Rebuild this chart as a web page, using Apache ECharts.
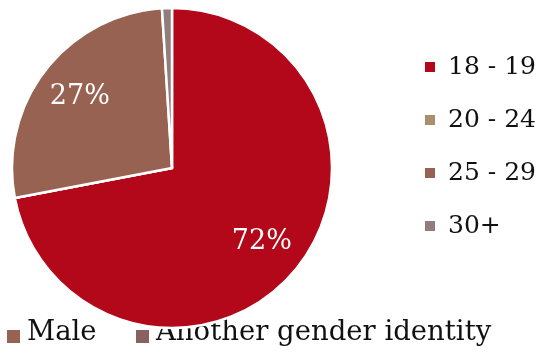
<!DOCTYPE html>
<html>
<head>
<meta charset="utf-8">
<script src="https://cdn.jsdelivr.net/npm/echarts@6/dist/echarts.min.js"></script>
<style>
  html, body { margin: 0; padding: 0; background: #ffffff; }
  #chart { width: 539px; height: 354px; }
</style>
</head>
<body>
<div id="chart"></div>
<script>
// Age groups and their share of respondents (%)
const ageGroups = ['18 - 19', '20 - 24', '25 - 29', '30+'];
const ageShares = [72, 0, 27, 1];
const ageColors = ['#b3081a', '#a8906f', '#986253', '#927d7d'];

// Gender key shown along the bottom edge
const genderNames = ['Male', 'Another gender identity'];
const genderColors = ['#986253', '#8a6161'];

const FONT = '"DejaVu Serif", serif';
const CENTER = [172, 168];
const R = 160;

const pieData = ageGroups.map((name, i) => ({
  name: name,
  value: ageShares[i],
  itemStyle: { color: ageColors[i] }
}));

const labelData = ageGroups.map((name, i) => ({
  name: name,
  value: ageShares[i],
  label: { show: ageShares[i] >= 5 }
}));

const chart = echarts.init(document.getElementById('chart'), null, { renderer: 'canvas' });

// Bottom key: square swatch + caption for each gender
const genderKeyX = [7, 136];
const genderGraphics = [];
genderNames.forEach((name, i) => {
  genderGraphics.push({
    type: 'rect',
    left: genderKeyX[i],
    top: 330,
    shape: { width: 13, height: 13 },
    style: { fill: genderColors[i] },
    silent: true
  });
  genderGraphics.push({
    type: 'text',
    left: genderKeyX[i] + 20,
    top: 319,
    style: {
      text: name,
      fill: '#111111',
      font: '27.5px ' + FONT
    },
    silent: true
  });
});

chart.setOption({
  animation: false,
  backgroundColor: '#ffffff',
  legend: {
    orient: 'vertical',
    left: 418,
    top: 49,
    icon: 'rect',
    itemWidth: 12,
    itemHeight: 12,
    itemGap: 27,
    data: ageGroups,
    selectedMode: false,
    textStyle: {
      fontFamily: FONT,
      fontSize: 25,
      lineHeight: 26,
      color: '#111111',
      padding: [0, 0, 0, 7]
    }
  },
  series: [
    {
      name: 'Age',
      type: 'pie',
      center: CENTER,
      radius: [0, R],
      startAngle: 90,
      clockwise: true,
      label: { show: false },
      labelLine: { show: false },
      itemStyle: { borderColor: '#ffffff', borderWidth: 2.5 },
      emphasis: { disabled: true },
      data: pieData
    },
    {
      // transparent ring carrying the percentage labels at ~70% of the radius
      name: 'AgeLabels',
      type: 'pie',
      center: CENTER,
      radius: [R * 0.42, R],
      startAngle: 90,
      clockwise: true,
      silent: true,
      legendHoverLink: false,
      itemStyle: { color: 'rgba(0,0,0,0)' },
      emphasis: { disabled: true },
      labelLine: { show: false },
      label: {
        position: 'inside',
        formatter: '{c}%',
        color: '#ffffff',
        fontFamily: FONT,
        fontSize: 27
      },
      data: labelData
    }
  ],
  graphic: genderGraphics
});
</script>
</body>
</html>
